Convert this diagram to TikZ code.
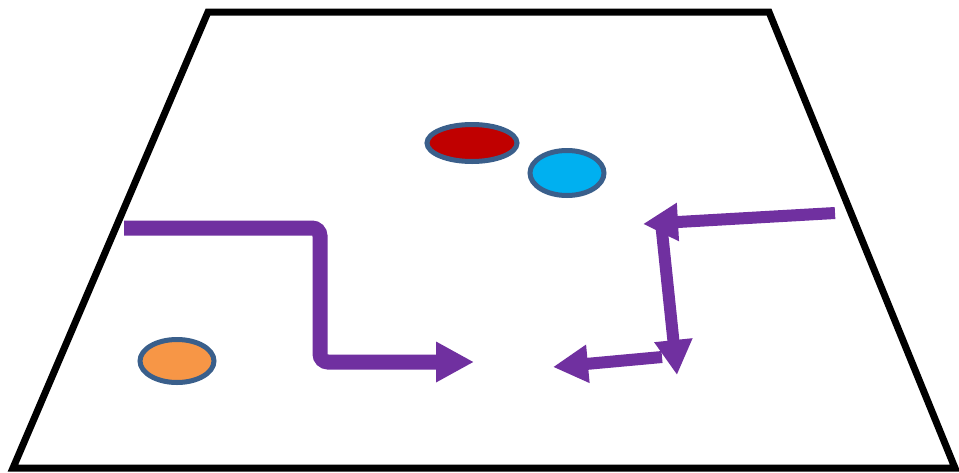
\documentclass[tikz,border=0pt]{standalone}
\usetikzlibrary{arrows.meta,shapes.geometric}
\definecolor{purp}{HTML}{7030A0}
\definecolor{edgeblue}{HTML}{3A5F8B}
\definecolor{redfill}{HTML}{C00000}
\definecolor{bluefill}{HTML}{00B0F0}
\definecolor{orangefill}{HTML}{F79646}
\tikzset{
  blob/.style={ellipse, draw=edgeblue, line width=5pt, inner sep=0pt},
  bigarrow/.style={draw=purp, line width=15pt, -{Triangle[length=38pt,width=38pt]}},
  smallarrow/.style={draw=purp, line width=12pt, -{Triangle[length=35pt,width=36pt]}},
  field/.style={draw=black, line width=7pt, line join=miter}
}
\begin{document}
\begin{tikzpicture}[x=1pt,y=-1pt]
\useasboundingbox (0,0) rectangle (959,472);
\fill[white] (0,0) rectangle (959,472);
\draw[field] (208,12) -- (769,12) -- (955,468) -- (13,468) -- cycle;
\node[blob, fill=redfill, minimum width=90pt, minimum height=37pt] (red) at (472,143) {};
\node[blob, fill=bluefill, minimum width=74pt, minimum height=45pt] (blue) at (567,173) {};
\node[blob, fill=orangefill, minimum width=74pt, minimum height=43pt] (orange) at (177,361) {};
\coordinate (a0) at (124,228);
\coordinate (a1) at (320,228);
\coordinate (a2) at (320,362);
\coordinate (a3) at (474,362);
\draw[bigarrow, rounded corners=8pt] (a0) -- (a1) -- (a2) -- (a3);
\coordinate (b0) at (835,213);
\coordinate (b1) at (643,224);
\coordinate (c0) at (661,222);
\coordinate (c1) at (677,375);
\coordinate (d0) at (662,357);
\coordinate (d1) at (553,367);
\draw[smallarrow] (b0) -- (b1);
\draw[smallarrow] (c0) -- (c1);
\draw[smallarrow] (d0) -- (d1);
\end{tikzpicture}
\end{document}
